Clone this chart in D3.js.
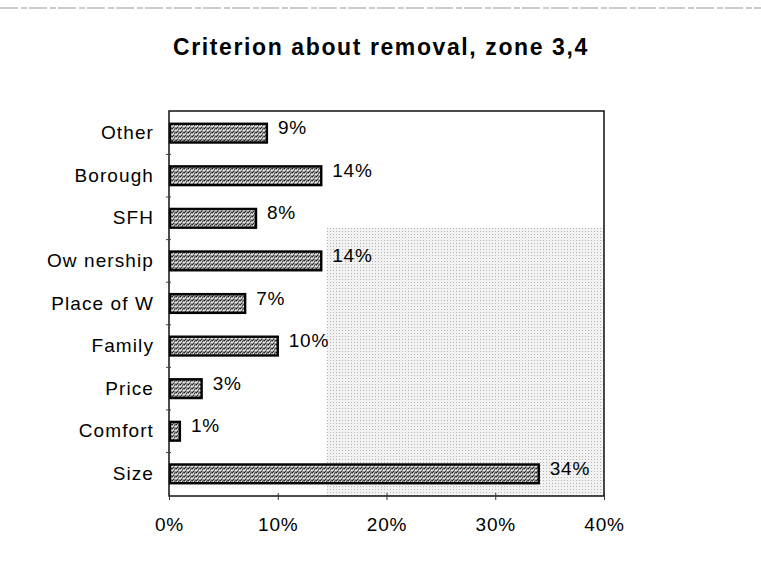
<!DOCTYPE html>
<html><head><meta charset="utf-8">
<script src="https://cdn.jsdelivr.net/npm/d3@7"></script>
<style>body{margin:0;background:#fff}svg{display:block;font-family:"Liberation Sans",Arial,sans-serif}</style>
</head><body><svg id="c" width="761" height="573"></svg>
<script>
const categories = ["Other","Borough","SFH","Ow nership","Place of W","Family","Price","Comfort","Size"];
const values = [9,14,8,14,7,10,3,1,34];
const labels = ["9%","14%","8%","14%","7%","10%","3%","1%","34%"];
const xTicks = [0,10,20,30,40];
const title = "Criterion about removal, zone 3,4";

const svg = d3.select("#c");
const m = {l:169, r:604, t:111, b:496};

const defs = svg.append("defs");
const pat = defs.append("pattern").attr("id","stip").attr("width",4).attr("height",4).attr("patternUnits","userSpaceOnUse");
pat.append("rect").attr("width",4).attr("height",4).attr("fill","#9a9a9a");
[[0,0,"#222"],[2,1,"#444"],[1,3,"#333"],[3,2,"#f0f0f0"],[1,1,"#e8e8e8"],[3,0,"#555"],[0,2,"#ddd"]]
  .forEach(([px,py,c])=>pat.append("rect").attr("x",px).attr("y",py).attr("width",1).attr("height",1).attr("fill",c));
const bg = defs.append("pattern").attr("id","bgdots").attr("width",3).attr("height",3).attr("patternUnits","userSpaceOnUse");
bg.append("rect").attr("width",3).attr("height",3).attr("fill","#f2f2f2");
bg.append("rect").attr("width",1).attr("height",1).attr("fill","#b5b5b5");

svg.append("line").attr("x1",0).attr("x2",761).attr("y1",8).attr("y2",8)
  .attr("stroke","#999").attr("stroke-width",1).attr("stroke-dasharray","18,3,6,2");

const x = d3.scaleLinear().domain([0,40]).range([m.l,m.r]);
const y = d3.scaleBand().domain(categories).range([m.t,m.b]).paddingInner(0.56).paddingOuter(0.3);

svg.append("rect").attr("x",m.l).attr("y",m.t).attr("width",m.r-m.l).attr("height",m.b-m.t).attr("fill","#fff");
svg.append("rect").attr("x",x(14.5)).attr("y",228).attr("width",m.r-x(14.5)).attr("height",m.b-228).attr("fill","url(#bgdots)");

svg.append("text").attr("x",381).attr("y",55).attr("text-anchor","middle")
  .attr("font-size",23).attr("font-weight","bold").attr("letter-spacing",1.6).attr("fill","#000").text(title);

svg.selectAll("rect.bar").data(values).join("rect").attr("class","bar")
  .attr("x",x(0)+1).attr("y",(d,i)=>y(categories[i]))
  .attr("width",d=>x(d)-x(0)-1).attr("height",y.bandwidth())
  .attr("fill","url(#stip)").attr("stroke","#000").attr("stroke-width",2.4);

svg.selectAll("text.val").data(values).join("text").attr("class","val")
  .attr("x",d=>x(d)+11).attr("y",(d,i)=>y(categories[i])+y.bandwidth()/2+1)
  .attr("font-size",19).attr("letter-spacing",0.8).attr("fill","#000").text((d,i)=>labels[i]);

svg.selectAll("text.cat").data(categories).join("text").attr("class","cat")
  .attr("x",154).attr("y",d=>y(d)+y.bandwidth()/2+6)
  .attr("text-anchor","end").attr("font-size",19).attr("letter-spacing",1.1).attr("fill","#000").text(d=>d);

svg.append("rect").attr("x",m.l).attr("y",m.t).attr("width",m.r-m.l).attr("height",m.b-m.t)
  .attr("fill","none").attr("stroke","#111").attr("stroke-width",1.5);

const xa = svg.append("g").attr("transform",`translate(0,${m.b})`)
  .call(d3.axisBottom(x).tickValues(xTicks).tickSize(4).tickFormat(d=>d+"%"));
xa.select(".domain").remove();
xa.selectAll("line").attr("stroke","#333").attr("y1",-3);
xa.selectAll("text").attr("font-size",19).attr("letter-spacing",0.8).attr("fill","#000").attr("y",35).attr("dy",0)
  .attr("font-family","'Liberation Sans',Arial,sans-serif");

const bounds = categories.map(c=>y(c)-y.step()*y.paddingInner()/2);
svg.selectAll("line.yt").data(bounds.slice(1)).join("line").attr("class","yt")
  .attr("x1",m.l-3).attr("x2",m.l+2).attr("y1",d=>d).attr("y2",d=>d).attr("stroke","#444");
</script></body></html>
